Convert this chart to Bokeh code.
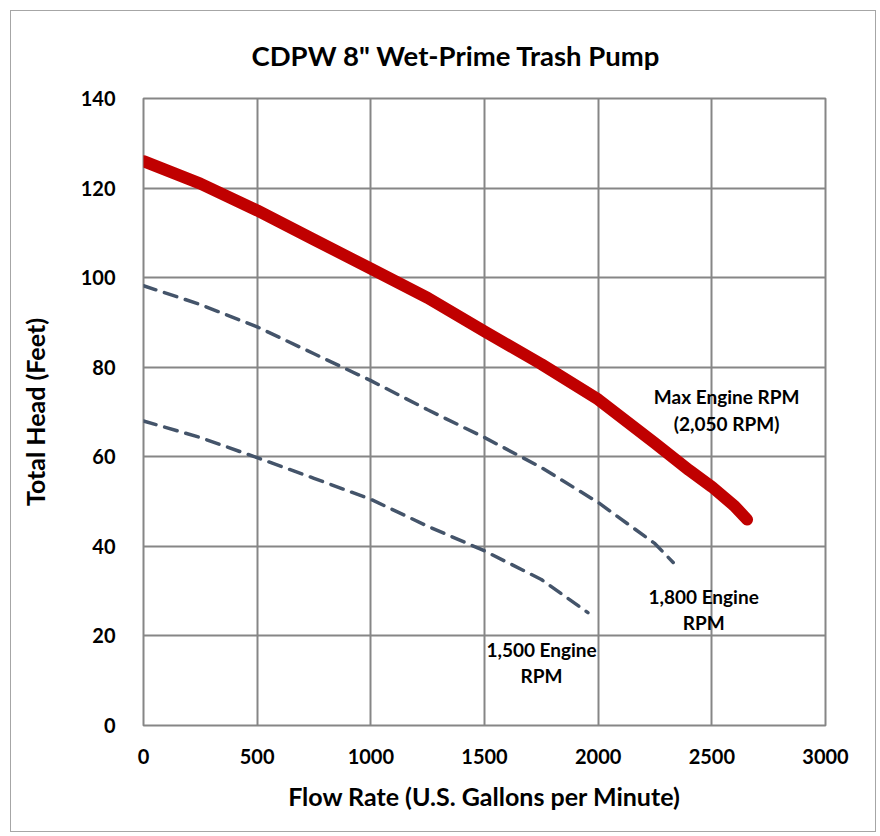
from bokeh.plotting import figure
from bokeh.models import FixedTicker, Range1d, ColumnDataSource
from bokeh.core.properties import value
from bokeh.embed import file_html
from bokeh.resources import INLINE

# ---- data ----
max_gpm = [0, 250, 500, 750, 1000, 1250, 1500, 1750, 2000, 2250, 2400, 2500, 2600, 2655]
max_head = [126, 121, 115, 108.5, 102, 95.5, 88, 80.7, 72.8, 63, 57, 53.3, 49, 46]

rpm1800_gpm = [0, 250, 500, 750, 1000, 1250, 1500, 1750, 2000, 2250, 2330]
rpm1800_head = [98.2, 94, 89, 83, 77, 70.5, 64.3, 57.6, 49.8, 40.6, 36.4]

rpm1500_gpm = [0, 250, 500, 750, 1000, 1250, 1500, 1750, 1955]
rpm1500_head = [68, 64.3, 59.8, 55.2, 50.5, 44.5, 39, 32.6, 25.2]

x_ticks = [0, 500, 1000, 1500, 2000, 2500, 3000]
y_ticks = [0, 20, 40, 60, 80, 100, 120, 140]

title = 'CDPW 8" Wet-Prime Trash Pump'
x_title = "Flow Rate (U.S. Gallons per Minute)"
y_title = "Total Head (Feet)"

label_text = ["Max Engine RPM", "(2,050 RPM)", "1,800 Engine", "RPM", "1,500 Engine", "RPM"]
label_x = [2565, 2565, 2464, 2464, 1751, 1751]
label_y = [73.4, 67.4, 28.9, 23.1, 16.9, 11.2]

FONT = "Lato"
GRID = "#868686"

p = figure(width=866, height=822, output_backend="svg", toolbar_location=None,
           x_range=Range1d(0, 3000), y_range=Range1d(0, 140),
           min_border_left=132, min_border_right=52, min_border_top=87, min_border_bottom=108)
p.styles = {"border": "1px solid #a6a6a6", "margin-left": "10px", "margin-top": "10px"}

p.title.text = title
p.title.align = "left"
p.title.offset = 108
p.title.vertical_align = "top"
p.title.standoff = 50
p.title.text_font = FONT
p.title.text_font_size = "27.5px"
p.title.text_font_style = "bold"
p.title.text_color = "black"

p.outline_line_color = GRID
p.outline_line_width = 2

for ax in (p.xaxis[0], p.yaxis[0]):
    ax.axis_line_color = None
    ax.major_tick_line_color = None
    ax.minor_tick_line_color = None
    ax.major_label_text_font = FONT
    ax.major_label_text_font_style = "bold"
    ax.major_label_text_font_size = "20px"
    ax.major_label_text_color = "black"
    ax.axis_label_text_font = FONT
    ax.axis_label_text_font_style = "bold"
    ax.axis_label_text_font_size = "25px"
    ax.axis_label_text_color = "black"

p.xaxis.ticker = FixedTicker(ticks=x_ticks)
p.yaxis.ticker = FixedTicker(ticks=y_ticks)
p.xaxis.axis_label = x_title
p.yaxis.axis_label = y_title
p.xaxis.major_label_standoff = 17
p.yaxis.major_label_standoff = 22
p.xaxis.axis_label_standoff = 14
p.yaxis.axis_label_standoff = 28

p.grid.grid_line_color = GRID
p.grid.grid_line_width = 2
p.grid.grid_line_alpha = 1.0
p.xgrid.ticker = FixedTicker(ticks=x_ticks)
p.ygrid.ticker = FixedTicker(ticks=y_ticks)

p.line(rpm1500_gpm, rpm1500_head, line_color="#44546A", line_width=3.5, line_dash="13 9", line_cap="round")
p.line(rpm1800_gpm, rpm1800_head, line_color="#44546A", line_width=3.5, line_dash="13 9", line_cap="round")
p.line(max_gpm, max_head, line_color="#C00000", line_width=12, line_cap="round", line_join="round")

src = ColumnDataSource(dict(x=label_x, y=label_y, t=label_text))
p.text(x="x", y="y", text="t", source=src, text_font=value(FONT), text_font_style="bold",
       text_font_size="19px", text_align="center", text_baseline="middle", text_color="black")

open("out.html", "w").write(file_html(p, INLINE))
